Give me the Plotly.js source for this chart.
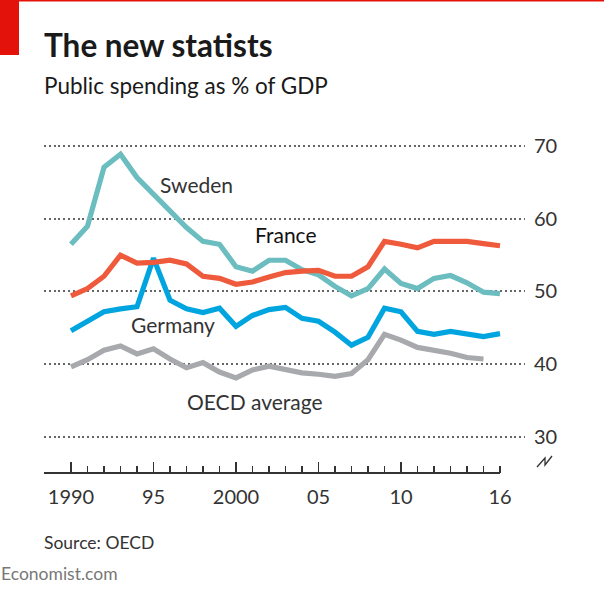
<!DOCTYPE html>
<html>
<head>
<meta charset="utf-8">
<script src="https://cdn.plot.ly/plotly-3.0.1.min.js"></script>
<style>
  html, body { margin: 0; padding: 0; background: #fff; }
  #chart { width: 608px; height: 591px; }
</style>
</head>
<body>
<div id="chart"></div>
<script>
// ---- data ----
const years = [1990,1991,1992,1993,1994,1995,1996,1997,1998,1999,2000,2001,2002,2003,2004,2005,2006,2007,2008,2009,2010,2011,2012,2013,2014,2015,2016];
const sweden  = [56.5,59.0,67.1,68.9,65.7,63.4,61.3,58.8,56.9,56.5,53.4,52.8,54.3,54.3,53.0,52.3,50.7,49.4,50.4,53.1,51.1,50.4,51.8,52.2,51.2,49.9,49.7];
const france  = [49.4,50.4,52.1,55.0,53.9,54.0,54.3,53.8,52.1,51.8,51.0,51.3,52.0,52.6,52.8,52.9,52.1,52.1,53.4,56.9,56.5,56.0,56.9,56.9,56.9,56.6,56.3];
const germany = [44.6,46.0,47.2,47.6,47.9,54.6,48.8,47.6,47.1,47.7,45.2,46.7,47.5,47.8,46.3,45.9,44.4,42.6,43.7,47.7,47.2,44.5,44.1,44.5,44.1,43.8,44.2];
const oecdYears = years.slice(0, 26);
const oecd    = [39.6,40.6,41.9,42.5,41.4,42.1,40.7,39.5,40.2,38.9,38.1,39.2,39.7,39.3,38.8,38.6,38.3,38.7,40.6,44.1,43.3,42.3,41.9,41.5,40.9,40.7];

const majorTicks = [1990,1995,2000,2005,2010,2015];
const majorText  = ['1990','95','2000','05','10',''];
const endTick = [2016];
const endText = ['16'];
const yTicks = [30,40,50,60,70];

// ---- geometry ----
const W = 608, H = 591;
const M = {l: 44, r: 83, t: 139, b: 118};
const plotW = W - M.l - M.r, plotH = H - M.t - M.b;
const X_RANGE = [1988.364, 2017.515];
const Y_RANGE = [25, 71];
const px = v => (v - M.l) / plotW;          // pixel x -> paper
const py = v => (H - M.b - v) / plotH;      // pixel y -> paper

const FONT = 'Lato, "Open Sans", sans-serif';
const C = {sweden:'#6bbdbf', france:'#ef5a3c', germany:'#00a5df', oecd:'#a8a9ad'};

const line = (x, y, color, name, xa) => ({
  x: x, y: y, type: 'scatter', mode: 'lines', name: name,
  xaxis: xa || 'x', yaxis: 'y',
  line: {color: color, width: 5.2, shape: 'linear'},
  hoverinfo: 'skip'
});

const traces = [
  line(oecdYears, oecd, C.oecd, 'OECD average'),
  line(years, germany, C.germany, 'Germany'),
  line(years, sweden, C.sweden, 'Sweden'),
  line(years, france, C.france, 'France', 'x2')
];

const lbl = (text, x, y, color) => ({
  text: text, x: x, y: y, xref: 'x', yref: 'y', showarrow: false,
  font: {family: FONT, size: 21, color: color || '#333'}
});

const layout = {
  width: W, height: H,
  margin: M,
  paper_bgcolor: '#fff', plot_bgcolor: 'rgba(0,0,0,0)',
  showlegend: false,
  xaxis: {
    range: X_RANGE, fixedrange: true,
    tickmode: 'array', tickvals: majorTicks, ticktext: majorText,
    ticks: 'inside', ticklen: 11, tickwidth: 1.5, tickcolor: '#333',
    minor: {tickmode: 'array', tickvals: years, ticks: 'inside', ticklen: 7, tickwidth: 1.5, tickcolor: '#333', showgrid: false},
    showgrid: false, zeroline: false, showline: false,
    tickfont: {family: FONT, size: 20, color: '#333'},
    ticklabelstandoff: 10
  },
  xaxis2: {
    overlaying: 'x', anchor: 'y', side: 'bottom',
    range: X_RANGE, fixedrange: true,
    tickmode: 'array', tickvals: endTick, ticktext: endText,
    ticks: 'inside', ticklen: 7, tickwidth: 1.5, tickcolor: '#333',
    showgrid: false, zeroline: false, showline: false,
    tickfont: {family: FONT, size: 20, color: '#333'},
    ticklabelstandoff: 10
  },
  yaxis: {
    range: Y_RANGE, fixedrange: true, side: 'right',
    tickmode: 'array', tickvals: yTicks,
    ticks: '', showline: false, zeroline: false,
    showgrid: true, gridcolor: '#666', gridwidth: 2, griddash: '2px,2.8px',
    tickfont: {family: FONT, size: 20, color: '#333'},
    ticklabelstandoff: 8
  },
  shapes: [
    // baseline from left edge to last year
    {type: 'line', xref: 'x', yref: 'paper', x0: X_RANGE[0], x1: years[years.length-1], y0: 0, y1: 0,
     line: {color: '#333', width: 1.8}},
    // red top rule and tag
    {type: 'rect', xref: 'paper', yref: 'paper', x0: px(0), x1: px(604), y0: py(0), y1: py(1.6),
     fillcolor: '#e3120b', line: {width: 0}},
    {type: 'rect', xref: 'paper', yref: 'paper', x0: px(0), x1: px(19), y0: py(0), y1: py(55),
     fillcolor: '#e3120b', line: {width: 0}},
    // axis break mark
    {type: 'path', xref: 'paper', yref: 'paper',
     path: `M ${px(537)} ${py(467)} L ${px(545)} ${py(458)} L ${px(545)} ${py(465)} L ${px(552)} ${py(456)}`,
     line: {color: '#333', width: 1.3}}
  ],
  annotations: [
    {text: '<b>The new statists</b>', xref: 'paper', yref: 'paper', x: px(42), y: py(45),
     xanchor: 'left', yanchor: 'middle', showarrow: false,
     font: {family: FONT, size: 31.5, color: '#1a1a1a'}},
    {text: 'Public spending as % of GDP', xref: 'paper', yref: 'paper', x: px(42), y: py(86),
     xanchor: 'left', yanchor: 'middle', showarrow: false,
     font: {family: FONT, size: 22.5, color: '#1a1a1a'}},
    {text: 'Source: OECD', xref: 'paper', yref: 'paper', x: px(42), y: py(542),
     xanchor: 'left', yanchor: 'middle', showarrow: false,
     font: {family: FONT, size: 17.5, color: '#333'}},
    {text: 'Economist.com', xref: 'paper', yref: 'paper', x: px(-1), y: py(573),
     xanchor: 'left', yanchor: 'middle', showarrow: false,
     font: {family: FONT, size: 17.5, color: '#777'}},
    lbl('Sweden', 1997.6, 64.8),
    lbl('France', 2003.0, 57.9, '#111'),
    lbl('Germany', 1996.2, 45.4),
    lbl('OECD average', 2001.15, 34.9)
  ]
};

Plotly.newPlot('chart', traces, layout, {displayModeBar: false, staticPlot: true});
</script>
</body>
</html>
